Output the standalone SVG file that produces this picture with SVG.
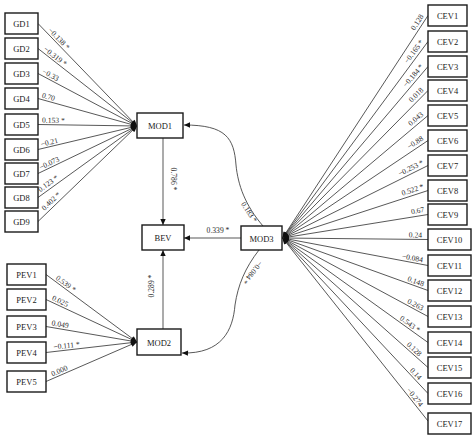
<svg xmlns="http://www.w3.org/2000/svg" width="474" height="438" viewBox="0 0 474 438">
<style>
.box{fill:#fff;stroke:#1a1a1a;stroke-width:1.4}
.bt{font-family:"Liberation Serif",serif;font-size:8.5px;fill:#1a1a1a;text-anchor:middle}
.ln{fill:none;stroke:#3a3a3a;stroke-width:0.85}
.lb{font-family:"Liberation Serif",serif;font-size:7.6px;fill:#2a2a2a}
.e{text-anchor:end}
.m{text-anchor:middle}
</style>
<defs>
<marker id="ah" viewBox="0 0 10 10" refX="10" refY="5" markerWidth="7" markerHeight="6" markerUnits="userSpaceOnUse" orient="auto"><path d="M0,0.5 L10,5 L0,9.5 z" fill="#111"/></marker>
</defs>
<rect width="474" height="438" fill="#fff"/>
<g id="connectors">
<g class="ln" marker-end="url(#ah)">
<path d="M38,23.5 L137,126"/>
<path d="M38,48.5 L137,126"/>
<path d="M38,73.5 L137,126"/>
<path d="M38,98.5 L137,126"/>
<path d="M38,124.5 L137,126"/>
<path d="M38,149.5 L137,126"/>
<path d="M38,173.5 L137,126"/>
<path d="M38,197.5 L137,126"/>
<path d="M38,221.5 L137,126"/>
<path d="M46,274.5 L137,342"/>
<path d="M46,299.5 L137,342"/>
<path d="M46,326.5 L137,342"/>
<path d="M46,352.5 L137,342"/>
<path d="M46,381.5 L137,342"/>
<path d="M428,15.5 L282.5,238"/>
<path d="M428,41.5 L282.5,238"/>
<path d="M428,66.5 L282.5,238"/>
<path d="M428,90.5 L282.5,238"/>
<path d="M428,115.5 L282.5,238"/>
<path d="M428,140.5 L282.5,238"/>
<path d="M428,165.5 L282.5,238"/>
<path d="M428,190.5 L282.5,238"/>
<path d="M428,214.5 L282.5,238"/>
<path d="M428,239.5 L282.5,238"/>
<path d="M428,265.5 L282.5,238"/>
<path d="M428,290.5 L282.5,238"/>
<path d="M428,316.5 L282.5,238"/>
<path d="M428,342.5 L282.5,238"/>
<path d="M428,367.5 L282.5,238"/>
<path d="M428,393.5 L282.5,238"/>
<path d="M428,421 L282.5,238"/>
<path d="M163,138 L163,225"/>
<path d="M163,329 L163,250"/>
<path d="M241,238 L184,238"/>
<path d="M263,226 C245,205 238,185 236,165 C234,138 226,125 184,125"/>
<path d="M259,250 C245,268 238,285 235,305 C233,330 222,354 182,353"/>
</g>
<g class="lb">
<text transform="translate(47.8,30.7) rotate(46)">−0.138 *</text>
<text transform="translate(43.2,50) rotate(38.1)">−0.319 *</text>
<text transform="translate(41.6,73.1) rotate(27.9)">−0.33</text>
<text transform="translate(41.4,97.4) rotate(15.5)">0.70</text>
<text transform="translate(42,122.6) rotate(0.9)">0.153 *</text>
<text transform="translate(41.4,146.7) rotate(-13.4)">−0.21</text>
<text transform="translate(40.7,170) rotate(-25.6)">−0.073</text>
<text transform="translate(40.3,192.2) rotate(-35.8)">0.123 *</text>
<text transform="translate(44.5,211) rotate(-43.9)">0.402 *</text>
<text transform="translate(55.2,278.9) rotate(36.6)">0.539 *</text>
<text transform="translate(51.4,299.8) rotate(25)">0.025</text>
<text transform="translate(51.3,325.3) rotate(9.7)">0.049</text>
<text transform="translate(53.7,349.6) rotate(-6.6)">−0.111 *</text>
<text transform="translate(52.5,376.5) rotate(-23.5)">0.000</text>
<text class="e" transform="translate(423.9,16.4) rotate(-56.9)">0.128</text>
<text class="e" transform="translate(423.8,42.1) rotate(-53.6)">−0.165 *</text>
<text class="e" transform="translate(423.8,66.9) rotate(-49.8)">−0.184 *</text>
<text class="e" transform="translate(423.8,90.5) rotate(-45.5)">0.018</text>
<text class="e" transform="translate(423.8,115.2) rotate(-40.2)">0.043</text>
<text class="e" transform="translate(423.8,139.7) rotate(-33.9)">−0.88</text>
<text class="e" transform="translate(424,164.2) rotate(-26.6)">−0.253 *</text>
<text class="e" transform="translate(424.2,188.6) rotate(-18.1)">0.522 *</text>
<text class="e" transform="translate(424.6,212) rotate(-9.2)">0.67</text>
<text class="e" transform="translate(422,237.5) rotate(0.6)">0.24</text>
<text class="e" transform="translate(422.5,262.4) rotate(10.7)">−0.084</text>
<text class="e" transform="translate(423,286.6) rotate(19.9)">0.148</text>
<text class="e" transform="translate(421.9,310.9) rotate(28.4)">0.263</text>
<text class="e" transform="translate(417.8,332.7) rotate(35.8)">0.543 *</text>
<text class="e" transform="translate(418.9,356.7) rotate(41.8)">0.128</text>
<text class="e" transform="translate(418.6,380.4) rotate(47)">0.14</text>
<text class="e" transform="translate(419.6,407.2) rotate(51.6)">−0.274</text>
<text class="m" transform="translate(171,179) rotate(90)">0.786 *</text>
<text class="m" transform="translate(154,286) rotate(-90)">0.289 *</text>
<text class="m" x="218" y="233">0.339 *</text>
<text class="m" transform="translate(247,213.5) rotate(57)">0.183 *</text>
<text class="m" transform="translate(250.5,271) rotate(129)">−0.084 *</text>
</g>
</g>
<g id="GD1"><rect class="box" x="5" y="13" width="33" height="21"/><text class="bt" x="21.5" y="27">GD1</text></g>
<g id="GD2"><rect class="box" x="5" y="38" width="33" height="21"/><text class="bt" x="21.5" y="52">GD2</text></g>
<g id="GD3"><rect class="box" x="5" y="63" width="33" height="21"/><text class="bt" x="21.5" y="77">GD3</text></g>
<g id="GD4"><rect class="box" x="5" y="88" width="33" height="21"/><text class="bt" x="21.5" y="102">GD4</text></g>
<g id="GD5"><rect class="box" x="5" y="114" width="33" height="21"/><text class="bt" x="21.5" y="128">GD5</text></g>
<g id="GD6"><rect class="box" x="5" y="139" width="33" height="21"/><text class="bt" x="21.5" y="153">GD6</text></g>
<g id="GD7"><rect class="box" x="5" y="163" width="33" height="21"/><text class="bt" x="21.5" y="177">GD7</text></g>
<g id="GD8"><rect class="box" x="5" y="187" width="33" height="21"/><text class="bt" x="21.5" y="201">GD8</text></g>
<g id="GD9"><rect class="box" x="5" y="211" width="33" height="21"/><text class="bt" x="21.5" y="225">GD9</text></g>
<g id="PEV1"><rect class="box" x="7" y="264" width="39" height="21"/><text class="bt" x="26.5" y="278">PEV1</text></g>
<g id="PEV2"><rect class="box" x="7" y="289" width="39" height="21"/><text class="bt" x="26.5" y="303">PEV2</text></g>
<g id="PEV3"><rect class="box" x="7" y="316" width="39" height="21"/><text class="bt" x="26.5" y="330">PEV3</text></g>
<g id="PEV4"><rect class="box" x="7" y="342" width="39" height="21"/><text class="bt" x="26.5" y="356">PEV4</text></g>
<g id="PEV5"><rect class="box" x="7" y="371" width="39" height="21"/><text class="bt" x="26.5" y="385">PEV5</text></g>
<g id="MOD1"><rect class="box" x="137" y="113" width="46" height="25"/><text class="bt" x="160" y="129">MOD1</text></g>
<g id="BEV"><rect class="box" x="142" y="225" width="42" height="25"/><text class="bt" x="163" y="241">BEV</text></g>
<g id="MOD3"><rect class="box" x="241" y="226" width="41" height="24"/><text class="bt" x="261.5" y="241.5">MOD3</text></g>
<g id="MOD2"><rect class="box" x="137" y="329" width="44" height="26"/><text class="bt" x="159" y="345.5">MOD2</text></g>
<g id="CEV1"><rect class="box" x="428" y="5" width="39" height="21"/><text class="bt" x="447.5" y="19">CEV1</text></g>
<g id="CEV2"><rect class="box" x="428" y="31" width="39" height="21"/><text class="bt" x="447.5" y="45">CEV2</text></g>
<g id="CEV3"><rect class="box" x="428" y="56" width="39" height="21"/><text class="bt" x="447.5" y="70">CEV3</text></g>
<g id="CEV4"><rect class="box" x="428" y="80" width="39" height="21"/><text class="bt" x="447.5" y="94">CEV4</text></g>
<g id="CEV5"><rect class="box" x="428" y="105" width="39" height="21"/><text class="bt" x="447.5" y="119">CEV5</text></g>
<g id="CEV6"><rect class="box" x="428" y="130" width="39" height="21"/><text class="bt" x="447.5" y="144">CEV6</text></g>
<g id="CEV7"><rect class="box" x="428" y="155" width="39" height="21"/><text class="bt" x="447.5" y="169">CEV7</text></g>
<g id="CEV8"><rect class="box" x="428" y="180" width="39" height="21"/><text class="bt" x="447.5" y="194">CEV8</text></g>
<g id="CEV9"><rect class="box" x="428" y="204" width="39" height="21"/><text class="bt" x="447.5" y="218">CEV9</text></g>
<g id="CEV10"><rect class="box" x="428" y="229" width="43" height="21"/><text class="bt" x="449.5" y="243">CEV10</text></g>
<g id="CEV11"><rect class="box" x="428" y="255" width="43" height="21"/><text class="bt" x="449.5" y="269">CEV11</text></g>
<g id="CEV12"><rect class="box" x="428" y="280" width="43" height="21"/><text class="bt" x="449.5" y="294">CEV12</text></g>
<g id="CEV13"><rect class="box" x="428" y="306" width="43" height="21"/><text class="bt" x="449.5" y="320">CEV13</text></g>
<g id="CEV14"><rect class="box" x="428" y="332" width="43" height="21"/><text class="bt" x="449.5" y="346">CEV14</text></g>
<g id="CEV15"><rect class="box" x="428" y="357" width="43" height="21"/><text class="bt" x="449.5" y="371">CEV15</text></g>
<g id="CEV16"><rect class="box" x="428" y="383" width="43" height="21"/><text class="bt" x="449.5" y="397">CEV16</text></g>
<g id="CEV17"><rect class="box" x="428" y="413" width="43" height="21"/><text class="bt" x="449.5" y="427">CEV17</text></g>
</svg>
